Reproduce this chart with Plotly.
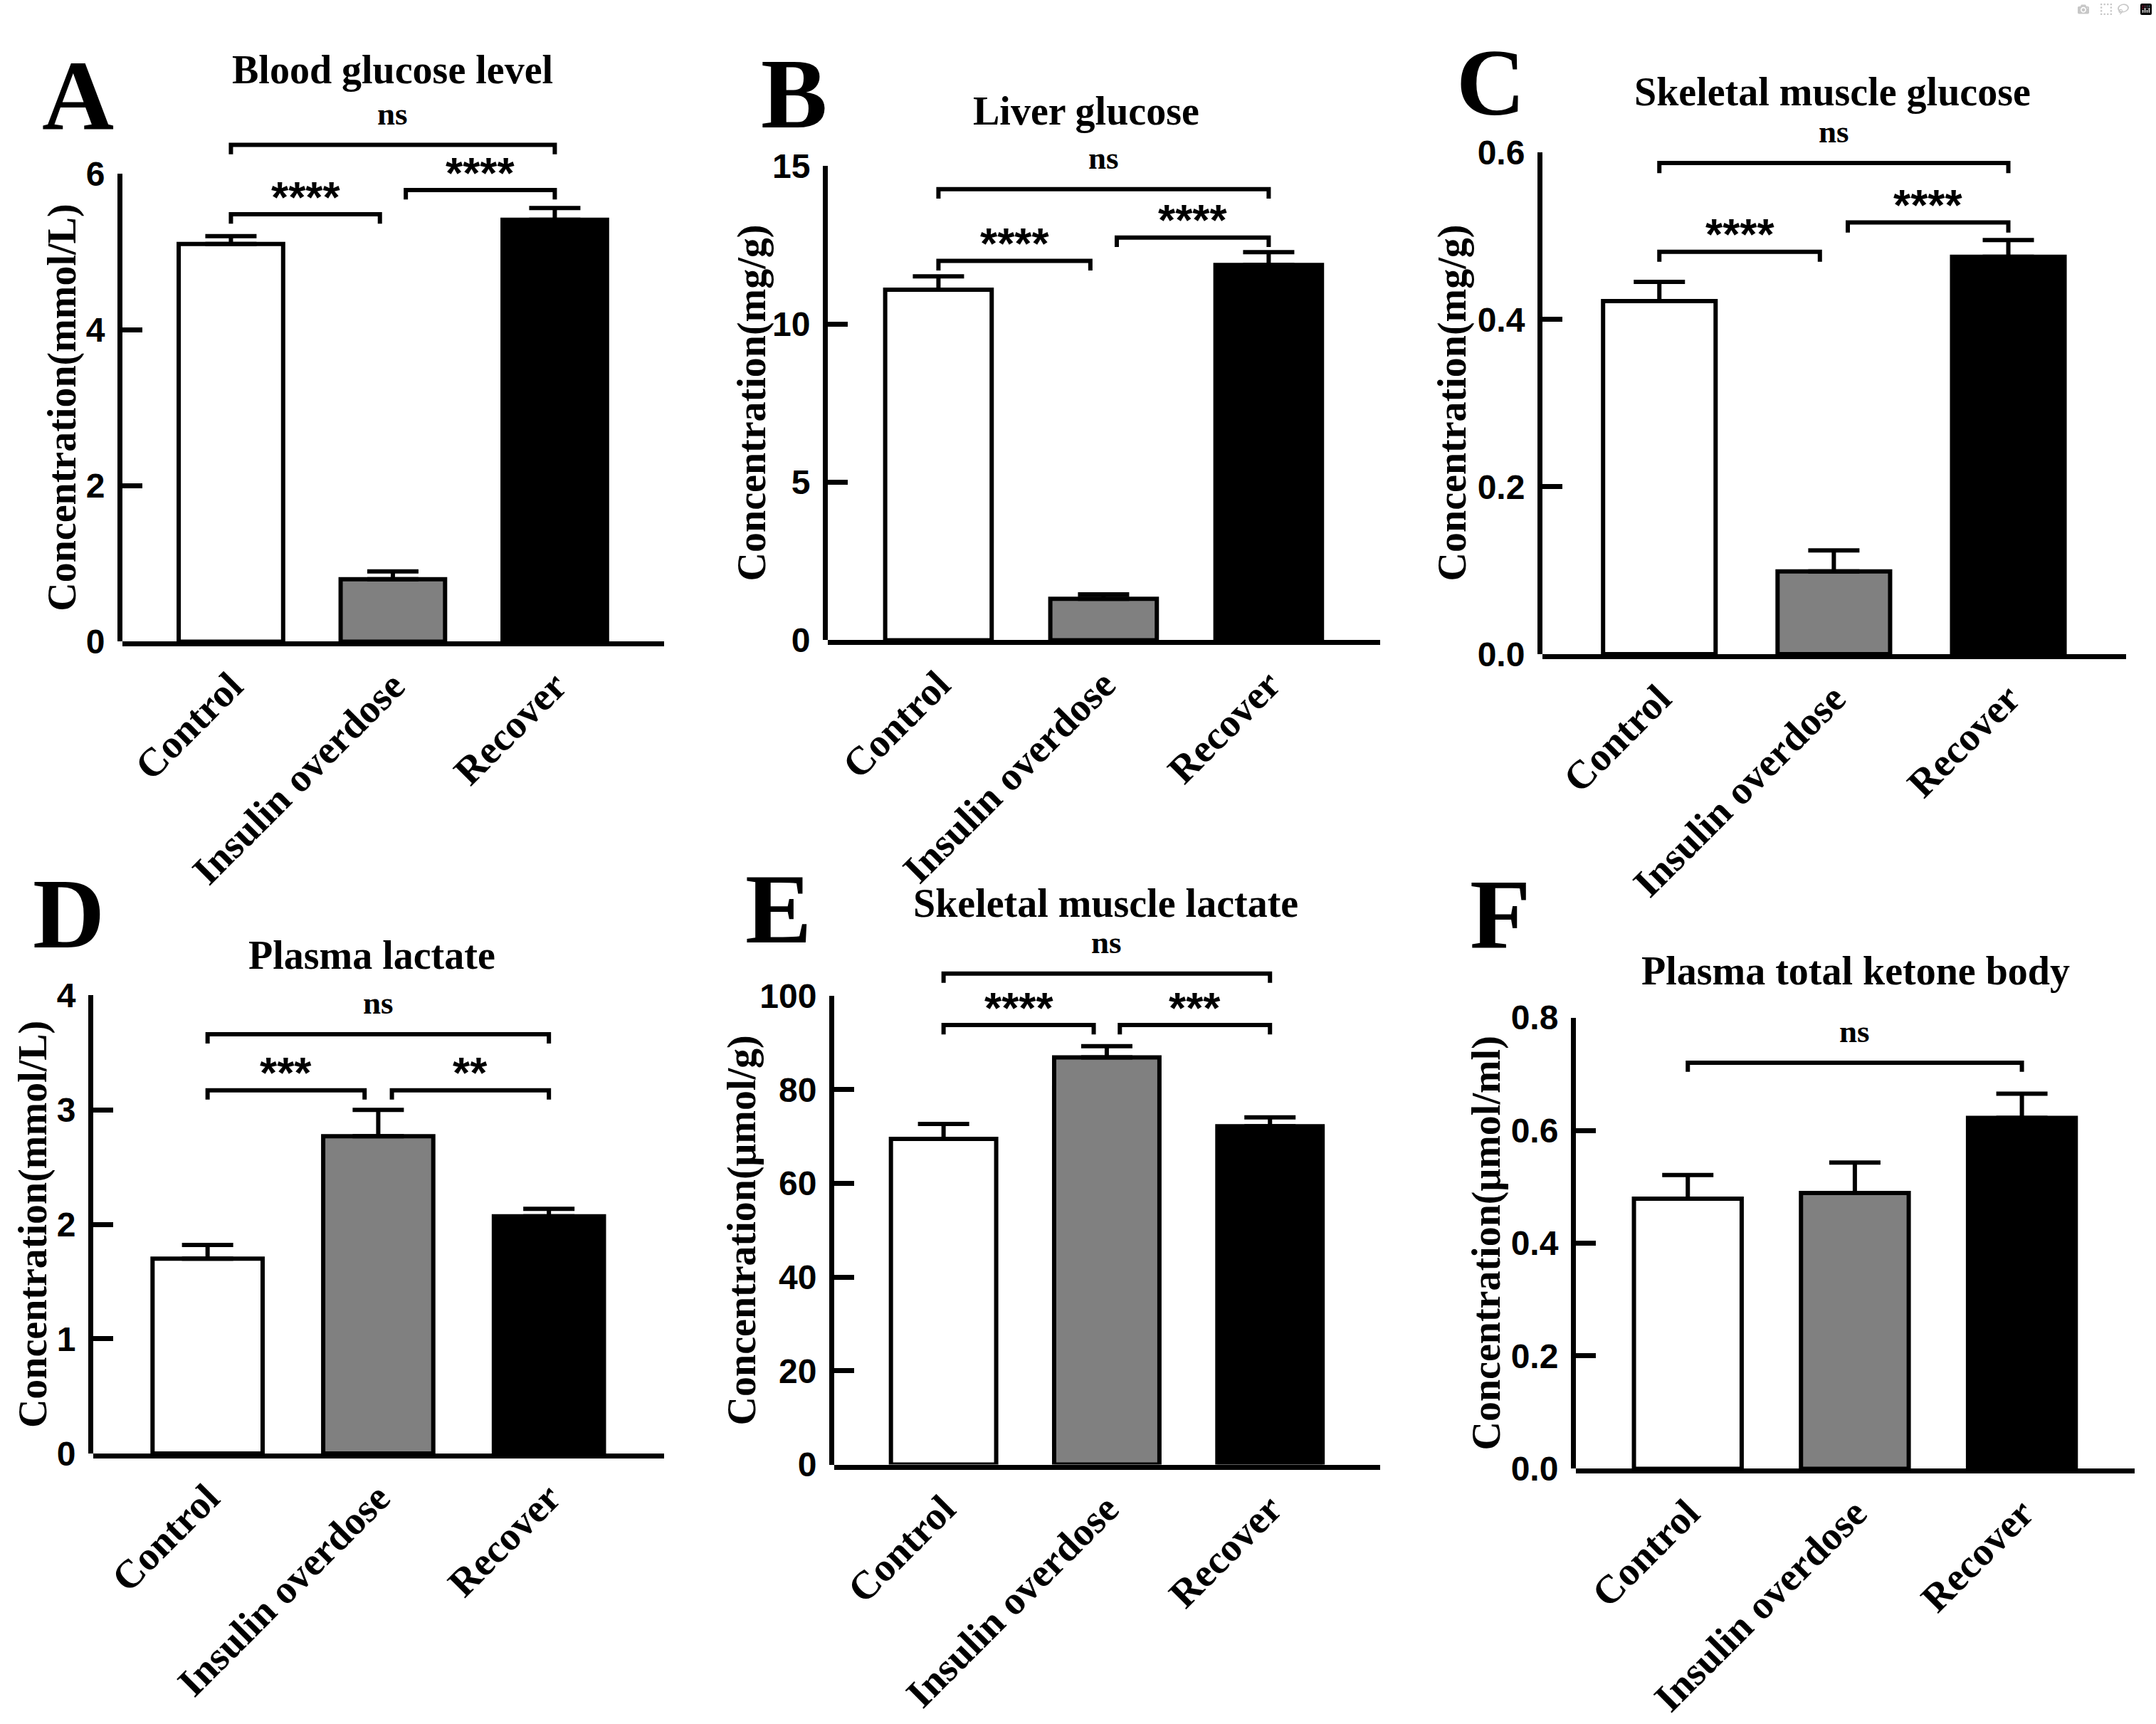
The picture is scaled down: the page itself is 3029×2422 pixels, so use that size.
import plotly.graph_objects as go

W, H = 3029, 2422

groups = ["Control", "Insulin overdose", "Recover"]
bar_colors = ["white", "#808080", "black"]

titles = ["Blood glucose level", "Liver glucose", "Skeletal muscle glucose",
          "Plasma lactate", "Skeletal muscle lactate", "Plasma total ketone body"]
ylabels = ["Concentration(mmol/L)", "Concentration(mg/g)", "Concentration(mg/g)",
           "Concentration(mmol/L)", "Concentration(μmol/g)", "Concentration(μmol/ml)"]
letters = ["A", "B", "C", "D", "E", "F"]

# mean and upper error (SEM) per panel
mean_a = [5.10, 0.80, 5.41]
err_a = [0.10, 0.10, 0.15]
mean_b = [11.09, 1.31, 11.87]
err_b = [0.42, 0.14, 0.41]
mean_c = [0.422, 0.099, 0.475]
err_c = [0.023, 0.025, 0.020]
mean_d = [1.70, 2.77, 2.07]
err_d = [0.12, 0.23, 0.066]
mean_e = [69.5, 86.9, 72.2]
err_e = [3.2, 2.4, 1.9]
mean_f = [0.479, 0.489, 0.622]
err_f = [0.042, 0.054, 0.043]

ticks_a = [0, 2, 4, 6]
ticks_b = [0, 5, 10, 15]
ticks_c = [0.0, 0.2, 0.4, 0.6]
ticks_d = [0, 1, 2, 3, 4]
ticks_e = [0, 20, 40, 60, 80, 100]
ticks_f = [0.0, 0.2, 0.4, 0.6, 0.8]

# significance brackets: group pairs, bracket heights, labels
pairs_abc = [(0, 1), (1, 2), (0, 2)]
pairs_f = [(0, 2)]
sig_a = [5.48, 5.79, 6.37]
sig_b = [12.0, 12.74, 14.27]
sig_c = [0.481, 0.516, 0.587]
sig_d = [3.17, 3.17, 3.66]
sig_e = [93.8, 93.8, 104.8]
sig_f = [0.72]
lab_a = ["****", "****", "ns"]
lab_b = ["****", "****", "ns"]
lab_c = ["****", "****", "ns"]
lab_d = ["***", "**", "ns"]
lab_e = ["****", "***", "ns"]
lab_f = ["ns"]

panels = [
    (mean_a, err_a, ticks_a, pairs_abc, sig_a, lab_a, ".0f"),
    (mean_b, err_b, ticks_b, pairs_abc, sig_b, lab_b, ".0f"),
    (mean_c, err_c, ticks_c, pairs_abc, sig_c, lab_c, ".1f"),
    (mean_d, err_d, ticks_d, pairs_abc, sig_d, lab_d, ".0f"),
    (mean_e, err_e, ticks_e, pairs_abc, sig_e, lab_e, ".0f"),
    (mean_f, err_f, ticks_f, pairs_f, sig_f, lab_f, ".1f"),
]

# pixel geometry: axis left, axis right, y of zero, y of top tick
geo = [(172, 933, 895, 223), (1163, 1939, 893, 212), (2167, 2987, 913, 192),
       (131, 933, 2061, 1403), (1172, 1939, 2077, 1404), (2214, 2999, 2083, 1435)]
title_pos = [(551, 74), (1526, 133), (2574, 105), (522, 1345), (1554, 1271), (2607, 1368)]
letter_pos = [(109, 111), (1115, 108), (2094, 92), (97, 1286), (1093, 1278), (2108, 1286)]
letter_size = [140, 140, 134, 140, 140, 140]
ytitle_x = [88, 1056, 2040, 46, 1042, 2089]

SERIF = "Liberation Serif, Times New Roman, serif"
SANS = "Liberation Sans, Arial, sans-serif"
XR = [-0.67, 2.675]


def px(x):
    return x / W


def py(y):
    return 1 - y / H


fig = go.Figure()
layout = {}
annotations = []

for i, (means, errs, ticks, pairs, sig, labs, fmt) in enumerate(panels):
    n = i + 1
    xa, ya, yd = "x%d" % n, "y%d" % n, "y%d" % (n + 6)
    left, right, zero, top = geo[i]
    vmax = ticks[-1]
    ext = vmax * 1.12
    ppu = (zero - top) / vmax

    fig.add_trace(go.Bar(
        x=[0, 1, 2], y=means, width=0.645, xaxis=xa, yaxis=ya,
        marker=dict(color=bar_colors, line=dict(color="black", width=6)),
        error_y=dict(type="data", symmetric=False, array=errs, arrayminus=[0, 0, 0],
                     color="black", thickness=6, width=36),
        showlegend=False, hoverinfo="skip"))

    leg = vmax * 0.02
    for (g0, g1), lvl, lab in zip(pairs, sig, labs):
        s = g0 + 0.08 if g0 == 1 else g0
        e = g1 - 0.08 if g1 == 1 else g1
        fig.add_trace(go.Scatter(
            x=[s, s, e, e], y=[lvl - leg, lvl, lvl, lvl - leg], mode="lines",
            line=dict(color="black", width=6), xaxis=xa, yaxis=ya,
            showlegend=False, hoverinfo="skip"))
        if lab == "ns":
            font = dict(family=SERIF, size=45, color="black", weight="bold")
            shift = 44
        else:
            font = dict(family=SANS, size=62, color="black", weight="bold")
            shift = 25
        annotations.append(dict(x=(s + e) / 2, y=lvl, xref=xa, yref=ya, text=lab,
                                showarrow=False, font=font, yshift=shift,
                                xanchor="center", yanchor="middle"))

    # dummy trace so the display y axis gets drawn
    fig.add_trace(go.Scatter(x=[0], y=[0], xaxis=xa, yaxis=yd, mode="markers",
                             marker=dict(opacity=0), showlegend=False, hoverinfo="skip"))

    key = "" if n == 1 else str(n)
    layout["xaxis" + key] = dict(
        domain=[px(left), px(right)], range=XR, anchor=ya,
        showline=True, linecolor="black", linewidth=7, ticks="",
        tickvals=[0, 1, 2], ticktext=groups, tickangle=-45,
        tickfont=dict(family=SERIF, size=56, color="black", weight="bold"),
        showgrid=False, zeroline=False, fixedrange=True)
    layout["yaxis" + key] = dict(
        domain=[py(zero), py(zero - ext * ppu)], range=[0, ext], anchor=xa,
        visible=False, fixedrange=True)
    layout["yaxis%d" % (n + 6)] = dict(
        domain=[py(zero), py(top)], range=[0, vmax], anchor=xa,
        showline=True, linecolor="black", linewidth=7,
        ticks="inside", ticklen=28, tickwidth=7, tickcolor="black",
        tickvals=ticks, tickformat=fmt, ticklabelstandoff=8,
        tickfont=dict(family=SANS, size=48, color="black", weight="bold"),
        showgrid=False, zeroline=False, fixedrange=True)

    tx, ty = title_pos[i]
    annotations.append(dict(x=px(tx), y=py(ty), xref="paper", yref="paper",
                            text=titles[i], showarrow=False,
                            font=dict(family=SERIF, size=56, color="black", weight="bold"),
                            xanchor="center", yanchor="middle"))
    lx, ly = letter_pos[i]
    annotations.append(dict(x=px(lx), y=py(ly), xref="paper", yref="paper",
                            text=letters[i], showarrow=False,
                            font=dict(family=SERIF, size=letter_size[i], color="black",
                                      weight="bold"),
                            xanchor="center", yanchor="middle"))
    annotations.append(dict(x=px(ytitle_x[i]), y=py((zero + top) / 2), xref="paper",
                            yref="paper", text=ylabels[i], showarrow=False, textangle=-90,
                            font=dict(family=SERIF, size=56, color="black", weight="bold"),
                            xanchor="center", yanchor="middle"))

fig.update_layout(**layout)
fig.update_layout(width=W, height=H, margin=dict(l=0, r=0, t=0, b=0),
                  paper_bgcolor="white", plot_bgcolor="rgba(0,0,0,0)",
                  annotations=annotations, showlegend=False)

fig.write_html("out.html", post_script="document.body.style.margin='0';")
